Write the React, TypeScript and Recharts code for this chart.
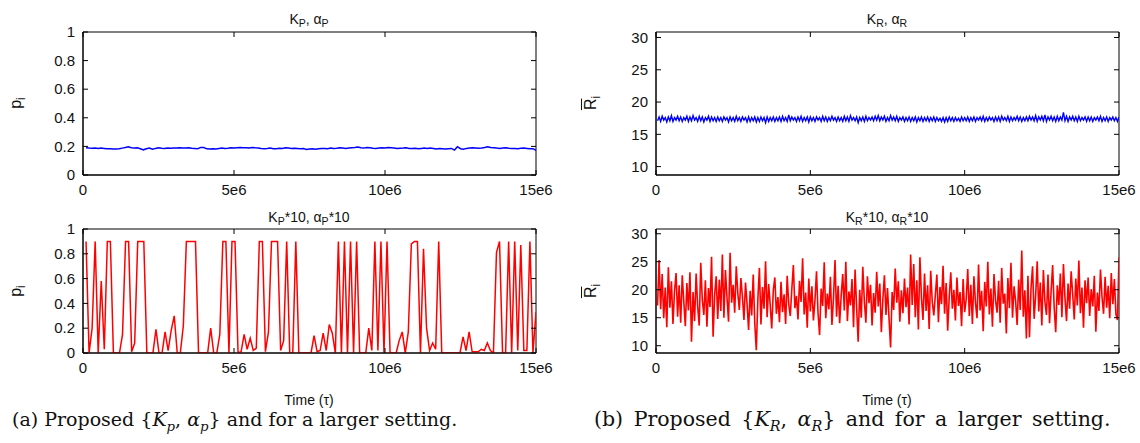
import React from "react";
import { LineChart, Line, XAxis, YAxis, ReferenceArea } from "recharts";

// time axis (tau)
const T_END = 15e6;
const timeTicks = [0, 5e6, 10e6, 15e6];
const pTicks = [0, 0.2, 0.4, 0.6, 0.8, 1];
const rTicks = [10, 15, 20, 25, 30];

// p_i with K_P, alpha_P
const pProposed = [
  0.19, 0.188, 0.187, 0.189, 0.185, 0.188, 0.186, 0.184, 0.183, 0.181, 0.182, 0.184, 0.188, 0.192, 0.198,
  0.191, 0.188, 0.19, 0.184, 0.176, 0.183, 0.188, 0.18, 0.186, 0.191, 0.187, 0.186, 0.189, 0.187, 0.188,
  0.189, 0.19, 0.188, 0.189, 0.191, 0.187, 0.186, 0.184, 0.193, 0.192, 0.183, 0.181, 0.184, 0.182, 0.186,
  0.189, 0.185, 0.187, 0.19, 0.188, 0.191, 0.192, 0.19, 0.191, 0.189, 0.193, 0.19, 0.189, 0.186, 0.184,
  0.186, 0.189, 0.184, 0.183, 0.187, 0.186, 0.19, 0.188, 0.185, 0.187, 0.186, 0.183, 0.185, 0.178, 0.182,
  0.184, 0.18, 0.183, 0.185, 0.186, 0.184, 0.188, 0.186, 0.187, 0.19, 0.188, 0.186, 0.189, 0.191, 0.192,
  0.195, 0.19, 0.188, 0.192, 0.19, 0.187, 0.185, 0.188, 0.19, 0.189, 0.192, 0.19, 0.188, 0.186, 0.187,
  0.188, 0.19, 0.186, 0.185, 0.187, 0.183, 0.186, 0.188, 0.185, 0.188, 0.186, 0.182, 0.185, 0.183, 0.181,
  0.184, 0.186, 0.174, 0.198, 0.184, 0.18, 0.186, 0.188, 0.19, 0.189, 0.187, 0.189, 0.192, 0.197, 0.193,
  0.191, 0.188, 0.186, 0.188, 0.19, 0.187, 0.185, 0.186, 0.183, 0.187, 0.188, 0.186, 0.183, 0.184, 0.172,
];

// p_i with K_P*10, alpha_P*10
const pLarger = [
  0.9, 0, 0.2, 0.9, 0, 0.58, 0.03, 0.9, 0.9, 0, 0, 0, 0.15, 0.9, 0.9,
  0.01, 0.08, 0.9, 0.9, 0.9, 0, 0, 0, 0.19, 0, 0, 0.17, 0.02, 0.18, 0.3,
  0, 0, 0.22, 0.9, 0.9, 0.9, 0.9, 0, 0, 0, 0, 0.2, 0, 0, 0.15,
  0.9, 0.9, 0, 0.9, 0.9, 0, 0.01, 0.15, 0.03, 0.12, 0.02, 0.04, 0.9, 0.9, 0.01,
  0.17, 0.9, 0.9, 0.9, 0.02, 0.1, 0.9, 0, 0, 0.9, 0, 0, 0, 0, 0,
  0.14, 0.01, 0.02, 0.16, 0.02, 0.23, 0.16, 0, 0.9, 0, 0.9, 0, 0.9, 0, 0.9,
  0, 0, 0, 0.2, 0.02, 0.9, 0.02, 0.9, 0, 0.9, 0, 0, 0, 0.1, 0.17,
  0, 0.17, 0.88, 0.9, 0.9, 0, 0.84, 0.2, 0.02, 0.08, 0.03, 0.9, 0, 0, 0,
  0, 0, 0, 0, 0.13, 0.02, 0.17, 0.01, 0.01, 0.01, 0.03, 0.02, 0.08, 0.02, 0,
  0.81, 0.9, 0, 0, 0.9, 0, 0.9, 0.02, 0.87, 0.02, 0.02, 0.9, 0, 0.33,
];

// R_i with K_R, alpha_R
const rProposed = [
  17.1, 17.7, 17.0, 17.8, 17.2, 17.6, 16.9, 17.7, 17.1, 17.9, 17.0, 17.6, 17.2, 17.8, 17.1, 17.7, 17.0, 17.6, 17.2, 17.8,
  17.0, 17.7, 17.1, 17.9, 17.2, 17.6, 17.0, 17.8, 17.1, 17.7, 16.9, 17.6, 17.2, 17.8, 17.0, 17.7, 17.1, 17.6, 17.0, 17.7,
  17.1, 17.6, 17.0, 17.7, 17.2, 17.6, 16.9, 17.7, 17.1, 17.6, 17.0, 17.8, 17.1, 17.6, 17.0, 17.7, 17.2, 17.6, 16.9, 17.7,
  17.0, 17.6, 17.1, 17.7, 16.9, 17.6, 17.0, 17.7, 17.1, 17.6, 16.8, 17.7, 17.0, 17.6, 17.1, 17.7, 17.0, 17.6, 17.1, 17.7,
  17.0, 17.8, 17.1, 17.6, 17.0, 18.0, 17.1, 17.7, 17.2, 17.6, 17.0, 17.7, 17.1, 17.8, 17.0, 17.6, 17.1, 17.7, 16.9, 17.7,
  17.1, 17.6, 17.0, 17.7, 17.2, 17.6, 17.0, 17.8, 17.1, 17.7, 17.0, 17.6, 17.1, 17.8, 17.2, 17.6, 17.0, 17.7, 17.1, 17.6,
  17.0, 17.8, 17.1, 17.7, 17.0, 17.9, 17.2, 17.6, 17.1, 17.7, 16.8, 17.6, 17.1, 17.7, 17.0, 17.8, 17.1, 17.6, 17.2, 17.7,
  17.1, 17.8, 17.2, 17.9, 17.1, 17.7, 17.2, 17.8, 17.0, 17.6, 17.1, 17.9, 17.2, 17.7, 17.1, 17.8, 17.0, 17.6, 17.2, 17.7,
  17.0, 17.6, 17.1, 17.7, 17.0, 17.6, 17.1, 17.7, 16.9, 17.6, 17.1, 17.7, 17.0, 17.6, 17.1, 17.7, 17.0, 17.6, 17.1, 17.7,
  17.0, 17.6, 17.1, 17.5, 17.0, 17.6, 16.9, 17.6, 17.0, 17.7, 17.1, 17.6, 17.0, 17.6, 17.1, 17.5, 17.0, 17.7, 17.1, 17.6,
  17.1, 17.7, 17.0, 17.6, 17.1, 17.7, 17.0, 17.6, 17.2, 17.7, 17.1, 17.8, 17.0, 17.6, 17.1, 17.7, 17.2, 17.6, 17.0, 17.7,
  17.1, 17.7, 17.0, 17.8, 17.2, 17.6, 17.1, 17.8, 17.0, 17.7, 17.1, 17.6, 17.2, 17.8, 17.1, 17.7, 17.0, 17.6, 17.1, 17.7,
  17.1, 17.8, 17.2, 17.7, 17.1, 17.9, 17.0, 17.7, 17.2, 17.8, 17.1, 18.0, 17.0, 17.7, 17.2, 17.8, 17.1, 17.7, 17.0, 17.8,
  17.1, 17.7, 17.2, 18.4, 17.1, 17.8, 17.0, 17.7, 17.2, 17.8, 17.1, 17.7, 17.0, 17.8, 17.1, 17.6, 17.2, 17.7, 17.0, 17.7,
  17.1, 17.7, 17.0, 17.6, 17.2, 17.7, 17.1, 17.8, 17.0, 17.6, 17.1, 17.7, 17.0, 17.6, 17.2, 17.7, 17.1, 17.6, 17.0, 17.7,
];

// R_i with K_R*10, alpha_R*10
const rLarger = [
  17.2, 25.3, 16.5, 22.8, 14.9, 20.4, 13.3, 24.0, 16.8, 21.5, 13.9, 19.7, 23.0, 15.2, 20.8, 14.1, 22.6, 17.9, 13.5, 21.2,
  16.3, 23.1, 10.7, 19.6, 14.4, 22.9, 17.0, 13.6, 24.8, 18.2, 15.5, 21.7, 13.4, 20.3, 16.9, 25.9, 11.6, 19.1, 22.4, 14.8,
  21.8, 16.2, 26.3, 15.0, 23.5, 18.6, 14.3, 26.6, 17.7, 20.9, 15.9, 24.2, 19.4, 16.4, 22.1, 18.8, 14.6, 21.3, 17.5, 12.8,
  19.8, 15.4, 22.7, 14.0, 9.2, 18.3, 23.9, 13.8, 20.5, 16.6, 25.1, 15.1, 21.0, 17.3, 13.1, 19.9, 22.2, 15.7, 18.7, 14.2,
  21.4, 16.0, 19.2, 13.9, 22.5, 17.4, 15.3, 20.1, 24.4, 16.7, 18.9, 14.7, 21.6, 17.8, 25.6, 15.6, 19.5, 13.2, 22.0, 16.1,
  20.6, 14.5, 18.1, 23.3, 15.8, 11.9, 20.2, 17.1, 24.9, 14.9, 19.3, 16.5, 22.3, 13.7, 18.5, 25.3, 15.2, 20.7, 14.0, 19.0,
  22.8, 16.3, 25.0, 14.4, 19.7, 17.2, 21.9, 13.3, 23.6, 16.8, 10.7, 20.0, 15.0, 24.1, 18.0, 14.1, 22.4, 17.6, 20.9, 13.6,
  19.4, 15.9, 23.2, 17.0, 21.1, 12.4, 18.4, 22.6, 15.5, 20.3, 14.8, 9.7, 19.6, 16.4, 23.8, 17.7, 21.5, 14.3, 19.9, 15.8,
  22.0, 16.9, 20.4, 13.8, 26.3, 17.3, 24.6, 15.1, 21.7, 12.9, 25.8, 18.6, 14.6, 22.9, 16.2, 20.8, 13.0, 23.4, 17.9, 15.4,
  19.1, 22.7, 14.2, 20.5, 17.4, 24.3, 15.7, 21.2, 12.7, 18.8, 23.1, 16.6, 20.0, 14.5, 22.2, 17.1, 19.6, 13.5, 21.9, 16.0,
  18.3, 23.7, 15.3, 20.9, 13.9, 22.4, 17.7, 14.9, 24.5, 16.3, 19.8, 12.6, 21.4, 17.0, 25.0, 15.6, 20.2, 13.4, 22.8, 18.1,
  15.9, 21.6, 14.1, 23.9, 17.5, 19.3, 12.2, 22.1, 16.7, 24.8, 15.0, 20.6, 18.0, 13.7, 21.8, 16.4, 27.0, 15.2, 19.9, 11.3,
  22.5, 11.5, 20.3, 24.2, 14.8, 19.0, 25.1, 16.1, 21.3, 13.6, 23.5, 17.8, 15.5, 22.7, 14.0, 19.7, 24.4, 16.9, 12.4, 20.8,
  17.3, 22.9, 15.1, 24.6, 18.5, 14.4, 21.1, 16.6, 23.3, 19.2, 14.7, 22.0, 17.2, 25.2, 15.8, 20.4, 13.2, 21.7, 17.6, 22.2,
  15.3, 20.1, 17.0, 22.5, 12.5, 19.5, 16.2, 23.6, 18.7, 15.7, 22.3, 16.8, 20.7, 14.9, 23.0, 17.4, 21.9, 15.6, 14.6, 25.8,
];

const SANS = "'Liberation Sans', Arial, sans-serif";
const SERIF = "'DejaVu Serif', 'Liberation Serif', serif";
const Y_AXIS_W = 40;
const X_AXIS_H = 20;
const TICK_GAP = 8;
const TICK_LEN = 5;

const fmtTime = (v: number) => (v === 0 ? "0" : `${v / 1e6}e6`);

function toPoints(series: number[]) {
  return series.map((v, i) => ({ t: ((i + 1) * T_END) / series.length, v }));
}

// y tick: label on the left, inward tick marks on both left and right borders
function YTick(props: any) {
  const { x, y, payload, plotW } = props;
  const ax = x + TICK_GAP;
  return (
    <g>
      <line x1={ax} x2={ax + TICK_LEN} y1={y} y2={y} stroke="#000" />
      <line x1={ax + plotW - TICK_LEN} x2={ax + plotW} y1={y} y2={y} stroke="#000" />
      <text x={x} y={y} dy="0.35em" textAnchor="end" fontSize={15} fontFamily={SANS} fill="#111">
        {String(payload.value)}
      </text>
    </g>
  );
}

// x tick: label below, inward tick marks on both bottom and top borders
function XTick(props: any) {
  const { x, y, payload, plotH } = props;
  const ay = y - TICK_GAP;
  return (
    <g>
      <line x1={x} x2={x} y1={ay} y2={ay - TICK_LEN} stroke="#000" />
      <line x1={x} x2={x} y1={ay - plotH} y2={ay - plotH + TICK_LEN} stroke="#000" />
      <text x={x} y={y} dy="0.8em" textAnchor="middle" fontSize={15} fontFamily={SANS} fill="#111">
        {fmtTime(payload.value)}
      </text>
    </g>
  );
}

interface PanelProps {
  series: number[];
  color: string;
  domain: [number, number];
  ticks: number[];
  left: number;
  top: number;
  width: number;
  height: number;
  margin: { top: number; right: number; bottom: number; left: number };
  strokeWidth?: number;
}

function Panel({ series, color, domain, ticks, left, top, width, height, margin, strokeWidth = 1.5 }: PanelProps) {
  const plotW = width - margin.left - margin.right - Y_AXIS_W;
  const plotH = height - margin.top - margin.bottom - X_AXIS_H;
  return (
    <div style={{ position: "absolute", left, top }}>
      <LineChart width={width} height={height} data={toPoints(series)} margin={margin}>
        <XAxis
          dataKey="t"
          type="number"
          domain={[0, T_END]}
          ticks={timeTicks}
          interval={0}
          height={X_AXIS_H}
          tickLine={false}
          tickSize={0}
          tickMargin={TICK_GAP}
          tick={(p: any) => <XTick {...p} plotH={plotH} />}
          stroke="#000"
          allowDataOverflow
        />
        <YAxis
          type="number"
          domain={domain}
          ticks={ticks}
          width={Y_AXIS_W}
          tickLine={false}
          tickSize={0}
          tickMargin={TICK_GAP}
          tick={(p: any) => <YTick {...p} plotW={plotW} />}
          stroke="#000"
          allowDataOverflow
          interval={0}
        />
        <ReferenceArea
          x1={0}
          x2={T_END}
          y1={domain[0]}
          y2={domain[1]}
          fill="#fff"
          fillOpacity={0}
          stroke="#000"
          strokeWidth={1}
        />
        <Line
          type="linear"
          dataKey="v"
          stroke={color}
          strokeWidth={strokeWidth}
          dot={false}
          isAnimationActive={false}
        />
      </LineChart>
    </div>
  );
}

function Label({ x, y, children, size = 14 }: { x: number; y: number; children: React.ReactNode; size?: number }) {
  return (
    <div
      style={{
        position: "absolute",
        left: x,
        top: y,
        transform: "translate(-50%, -50%)",
        fontFamily: SANS,
        fontSize: size,
        whiteSpace: "nowrap",
        color: "#111",
      }}
    >
      {children}
    </div>
  );
}

function YLabel({ x, y, children }: { x: number; y: number; children: React.ReactNode }) {
  return (
    <div
      style={{
        position: "absolute",
        left: x,
        top: y,
        transform: "translate(-50%, -50%) rotate(-90deg)",
        fontFamily: SANS,
        fontSize: 16,
        whiteSpace: "nowrap",
        color: "#111",
      }}
    >
      {children}
    </div>
  );
}

const sub = { fontSize: "0.75em", verticalAlign: "-0.3em", lineHeight: 0 } as const;
const capSub = { fontSize: "0.7em", lineHeight: 0 } as const;
const bar = { textDecoration: "overline" } as const;
const caption = { position: "absolute", top: 408, fontFamily: SERIF, fontSize: 19, whiteSpace: "nowrap", color: "#111" } as const;

export default function App() {
  const pDomain: [number, number] = [0, 1];
  const rDomain: [number, number] = [8.7, 30.85];
  return (
    <div style={{ position: "absolute", left: 0, top: 0, width: 1140, height: 443, background: "#fff", overflow: "hidden" }}>
      <Panel series={pProposed} color="#0000ff" domain={pDomain} ticks={pTicks}
        left={0} top={0} width={560} height={200} margin={{ top: 32, right: 24, bottom: 5, left: 43 }} />
      <Panel series={pLarger} color="#ff0000" domain={pDomain} ticks={pTicks}
        left={0} top={200} width={560} height={180} margin={{ top: 29, right: 24, bottom: 7, left: 43 }} />
      <Panel series={rProposed} color="#0000ff" domain={rDomain} ticks={rTicks} strokeWidth={1.4}
        left={570} top={0} width={570} height={200} margin={{ top: 32, right: 21, bottom: 5, left: 46 }} />
      <Panel series={rLarger} color="#ff0000" domain={rDomain} ticks={rTicks} strokeWidth={1.6}
        left={570} top={200} width={570} height={180} margin={{ top: 29, right: 21, bottom: 7, left: 46 }} />

      <Label x={309} y={19}>K<span style={sub}>P</span>, α<span style={sub}>P</span></Label>
      <Label x={309} y={217}>K<span style={sub}>P</span>*10, α<span style={sub}>P</span>*10</Label>
      <Label x={887} y={19}>K<span style={sub}>R</span>, α<span style={sub}>R</span></Label>
      <Label x={887} y={217}>K<span style={sub}>R</span>*10, α<span style={sub}>R</span>*10</Label>

      <YLabel x={16} y={103}>p<span style={sub}>i</span></YLabel>
      <YLabel x={16} y={291}>p<span style={sub}>i</span></YLabel>
      <YLabel x={591} y={103}><span style={bar}>R</span><span style={sub}>i</span></YLabel>
      <YLabel x={591} y={291}><span style={bar}>R</span><span style={sub}>i</span></YLabel>

      <Label x={309} y={400}>Time (τ)</Label>
      <Label x={887} y={400}>Time (τ)</Label>

      <div style={{ ...caption, left: 12 }}>
        (a) Proposed {"{"}<i>K</i><sub style={capSub}><i>p</i></sub>, <i>α</i><sub style={capSub}><i>p</i></sub>{"}"} and for a larger setting.
      </div>
      <div style={{ ...caption, left: 594, top: 407, fontSize: 20.5, wordSpacing: 4 }}>
        (b) Proposed {"{"}<i>K</i><sub style={capSub}><i>R</i></sub>, <i>α</i><sub style={capSub}><i>R</i></sub>{"}"} and for a larger setting.
      </div>
    </div>
  );
}
